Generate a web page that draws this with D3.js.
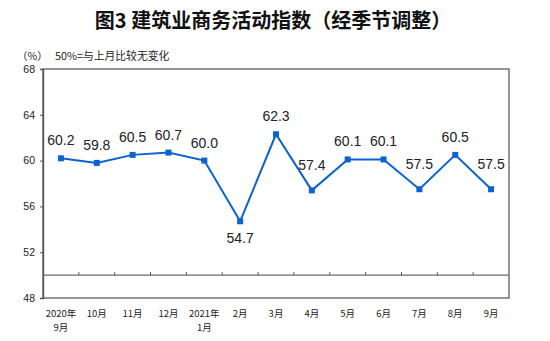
<!DOCTYPE html>
<html>
<head>
<meta charset="utf-8">
<script src="https://cdn.jsdelivr.net/npm/d3@7"></script>
<style>
  html, body { margin: 0; padding: 0; background: #fff; }
  svg { display: block; }
</style>
</head>
<body>
<svg id="chart" width="550" height="341"></svg>
<script>
// Construction business activity index, seasonally adjusted
const months = ["2020年\n9月", "10月", "11月", "12月", "2021年\n1月", "2月", "3月", "4月", "5月", "6月", "7月", "8月", "9月"];
const values = [60.2, 59.8, 60.5, 60.7, 60.0, 54.7, 62.3, 57.4, 60.1, 60.1, 57.5, 60.5, 57.5];
const yTicks = [48, 52, 56, 60, 64, 68];
const baselineValue = 50;

const svg = d3.select("#chart");
const margin = { left: 43, right: 41, top: 69, bottom: 43 };
const W = 550, H = 341;
const cjk = "'Noto Sans CJK SC', 'Liberation Sans', sans-serif";
const latin = "'Liberation Sans', Arial, sans-serif";

const x = d3.scaleBand()
  .domain(months)
  .range([margin.left, W - margin.right])
  .paddingInner(0).paddingOuter(0);

const y = d3.scaleLinear()
  .domain([48, 68])
  .range([H - margin.bottom, margin.top]);

const cx = d => x(d) + x.bandwidth() / 2;

// title
svg.append("text")
  .attr("x", 273).attr("y", 28)
  .attr("text-anchor", "middle")
  .style("font-family", cjk)
  .style("font-weight", "bold")
  .style("font-size", "20px")
  .attr("fill", "#111")
  .text("图3  建筑业商务活动指数（经季节调整）");

// unit and note
svg.append("text")
  .attr("x", 17).attr("y", 60)
  .style("font-family", cjk).style("font-size", "10.5px").attr("fill", "#222")
  .text("（%）");
svg.append("text")
  .attr("x", 55).attr("y", 60)
  .style("font-family", cjk).style("font-size", "10.8px").attr("fill", "#222")
  .text("50%=与上月比较无变化");

// plot frame
svg.append("rect")
  .attr("x", margin.left).attr("y", margin.top)
  .attr("width", W - margin.right - margin.left)
  .attr("height", H - margin.bottom - margin.top)
  .attr("fill", "none").attr("stroke", "#6a6a6a").attr("stroke-width", 1.4);

// y axis
const yAxis = d3.axisLeft(y).tickValues(yTicks).tickSize(3).tickPadding(5);
const gy = svg.append("g")
  .attr("transform", `translate(${margin.left},0)`)
  .call(yAxis);
gy.select(".domain").attr("stroke", "#555").attr("stroke-width", 1.4);
gy.selectAll(".tick line").attr("stroke", "#555");
gy.selectAll(".tick text")
  .style("font-family", latin).style("font-size", "10.5px").attr("fill", "#222");

// 50 reference line with category ticks
const baseY = y(baselineValue);
svg.append("line")
  .attr("x1", margin.left).attr("x2", W - margin.right)
  .attr("y1", baseY).attr("y2", baseY)
  .attr("stroke", "#6a6a6a").attr("stroke-width", 1.4);
svg.append("g").selectAll("line")
  .data(months.slice(1))
  .join("line")
  .attr("x1", d => x(d)).attr("x2", d => x(d))
  .attr("y1", baseY).attr("y2", baseY - 3)
  .attr("stroke", "#555").attr("stroke-width", 1);

// x category labels (two lines where needed)
const xl = svg.append("g");
months.forEach(m => {
  const lines = m.split("\n");
  const t = xl.append("text")
    .attr("text-anchor", "middle")
    .style("font-family", cjk).style("font-size", "9.5px").attr("fill", "#222");
  lines.forEach((ln, i) => {
    t.append("tspan").attr("x", cx(m)).attr("y", 317 + i * 14).text(ln);
  });
});

// series line
const line = d3.line()
  .x((d, i) => cx(months[i]))
  .y(d => y(d));
svg.append("path")
  .datum(values)
  .attr("d", line)
  .attr("fill", "none")
  .attr("stroke", "#0b62d0")
  .attr("stroke-width", 2);

// square markers
svg.append("g").selectAll("rect")
  .data(values)
  .join("rect")
  .attr("x", (d, i) => cx(months[i]) - 3)
  .attr("y", d => y(d) - 3)
  .attr("width", 6).attr("height", 6)
  .attr("fill", "#0b62d0");

// value labels: the lowest point is labelled underneath; sharp dips get
// their label lifted clear of the two incoming segments
const minVal = d3.min(values);
const labelY = (d, i) => {
  if (d === minVal) return y(d) + 22;
  const prev = values[i - 1], next = values[i + 1];
  const sharpDip = prev !== undefined && prev - d > 1.5 && (next === undefined || next - d > 1.5);
  return y(d) - (sharpDip ? 20 : 13);
};
svg.append("g").selectAll("text")
  .data(values)
  .join("text")
  .attr("x", (d, i) => cx(months[i]))
  .attr("y", labelY)
  .attr("text-anchor", "middle")
  .style("font-family", latin).style("font-size", "14px").attr("fill", "#222")
  .text(d => d.toFixed(1));
</script>
</body>
</html>
